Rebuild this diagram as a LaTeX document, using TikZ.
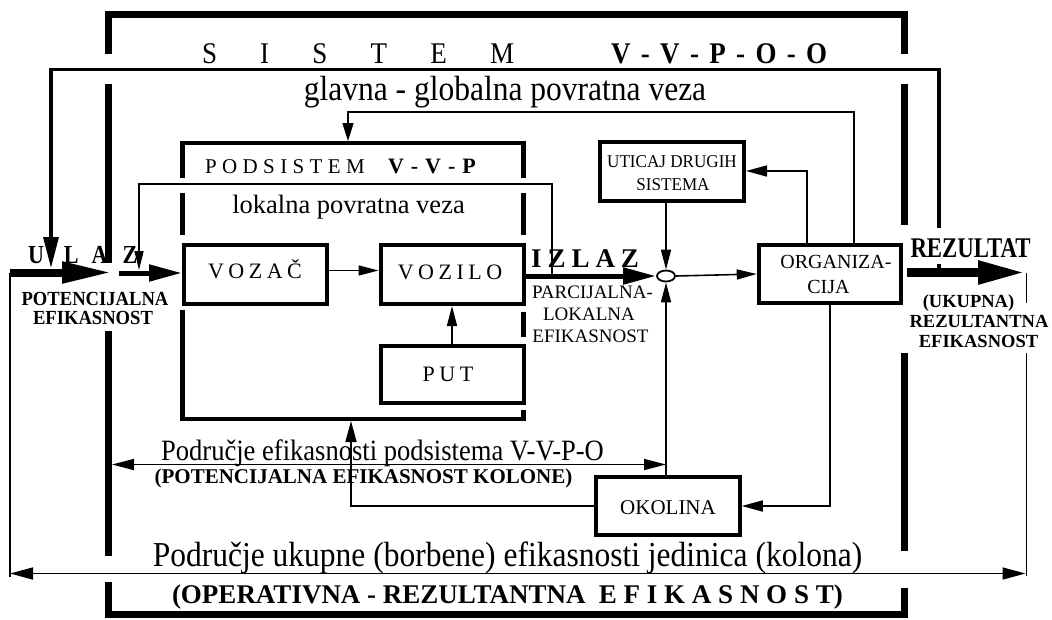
\documentclass[tikz,border=0pt]{standalone}
\usepackage{fontspec}
\setmainfont{Liberation Serif}
\usepackage{graphicx}
\usetikzlibrary{arrows.meta,shapes.geometric}
\newcommand{\tx}[3]{{\fontsize{#1pt}{#1pt}\selectfont\scalebox{#2}[1]{#3}}}
\begin{document}
\begin{tikzpicture}[x=1pt,y=-1pt,
  box/.style={draw, line width=4pt, inner sep=0pt, minimum width=143pt, minimum height=59pt},
  lab/.style={inner sep=0pt, outer sep=0pt},
  conn/.style={line width=1.6pt, line join=miter},
  tip/.style={-{Triangle[length=20pt,width=10pt]}},
  frame/.style={line width=7pt, line join=miter},
  sub/.style={line width=4.5pt, line join=miter}]
\useasboundingbox (0,0) rectangle (1052,619);

% ---- SISTEM frame
\draw[frame] (108,54) -- (108,14) -- (904,14) -- (904,54);
\draw[frame] (108,84) -- (108,263);
\draw[frame] (108,331) -- (108,556);
\draw[frame] (108,582) -- (108,614.5) -- (904,614.5) -- (904,588);
\draw[frame] (904,84) -- (904,225);
\draw[frame] (904,353) -- (904,551);

% ---- PODSISTEM frame
\node[lab, minimum width=341pt, minimum height=276pt] (pod) at (353,281) {};
\draw[sub] (182.5,178) -- (182.5,143) -- (523.5,143) -- (523.5,178);
\draw[sub] (182.5,193) -- (182.5,235);
\draw[sub] (523.5,193) -- (523.5,235);
\draw[sub] (182.5,310) -- (182.5,419) -- (523.5,419) -- (523.5,410);
\draw[sub] (523.5,312) -- (523.5,337);

% ---- titles
\node[lab, anchor=base west] (t1) at (202,63) {\tx{30}{0.9}{S\hspace{48pt}I\hspace{48pt}S\hspace{48pt}T\hspace{48pt}E\hspace{48pt}M}};
\node[lab, anchor=base west] (t2) at (611,63) {\tx{30}{0.9}{\bfseries V\hspace{11.5pt}-\hspace{11.5pt}V\hspace{11.5pt}-\hspace{11.5pt}P\hspace{11.5pt}-\hspace{11.5pt}O\hspace{11.5pt}-\hspace{11.5pt}O}};
\node[lab, anchor=base] (gl) at (505,100) {\tx{35}{0.9}{glavna - globalna povratna veza}};
\node[lab, anchor=base west] (ps1) at (205,173) {\tx{21}{1}{P\hspace{5.4pt}O\hspace{5.4pt}D\hspace{5.4pt}S\hspace{5.4pt}I\hspace{5.4pt}S\hspace{5.4pt}T\hspace{5.4pt}E\hspace{5.4pt}M}};
\node[lab, anchor=base west] (ps2) at (388,173) {\tx{22}{1}{\bfseries V\hspace{7pt}-\hspace{7pt}V\hspace{7pt}-\hspace{7pt}P}};
\node[lab, anchor=base] (lok) at (348.5,213) {\tx{26.5}{1}{lokalna povratna veza}};

% ---- boxes
\node[box] (vozac) at (255.5,274.5) {};
\node[box] (vozilo) at (452,274.5) {};
\node[box, minimum height=57pt] (put) at (452,374) {};
\node[box, minimum width=144pt] (utic) at (672,171) {};
\node[box, minimum width=142.5pt, minimum height=58.5pt] (org) at (830,274) {};
\node[box, minimum width=143.5pt, minimum height=57.5pt] (oko) at (668,506) {};
\node[draw, ellipse, line width=1.8pt, minimum width=18pt, minimum height=11pt, inner sep=0pt] (sum) at (666,276) {};

\node[lab, anchor=base] (tvozac) at (255,278) {\tx{22}{1}{V\hspace{4.5pt}O\hspace{4.5pt}Z\hspace{4.5pt}A\hspace{4.5pt}Č}};
\node[lab, anchor=base] (tvozilo) at (450,279) {\tx{22}{1}{V\hspace{4.5pt}O\hspace{4.5pt}Z\hspace{4.5pt}I\hspace{4.5pt}L\hspace{4.5pt}O}};
\node[lab, anchor=base] (tput) at (448,381) {\tx{22}{1}{P\hspace{4.5pt}U\hspace{4.5pt}T}};
\node[lab, anchor=base] (tu1) at (672,167) {\tx{18}{0.95}{UTICAJ DRUGIH}};
\node[lab, anchor=base] (tu2) at (673,190) {\tx{18}{0.95}{SISTEMA}};
\node[lab, anchor=base] (to1) at (836,268) {\tx{20}{1}{ORGANIZA-}};
\node[lab, anchor=base] (to2) at (828.5,293) {\tx{20}{1}{CIJA}};
\node[lab, anchor=base] (tok) at (668,514) {\tx{21}{1}{OKOLINA}};

% ---- side labels
\node[lab, anchor=base west] (ulaz) at (28,263) {\tx{26}{0.85}{\bfseries U\hspace{23.5pt}L\hspace{15.3pt}A\hspace{17.6pt}Z}};
\node[lab, anchor=base] (pe1) at (95,305) {\tx{20}{0.93}{\bfseries POTENCIJALNA}};
\node[lab, anchor=base] (pe2) at (93,324) {\tx{20}{0.93}{\bfseries EFIKASNOST}};
\node[lab, anchor=base west] (izlaz) at (531,267) {\tx{27}{1}{\bfseries I\hspace{6pt}Z\hspace{6pt}L\hspace{6pt}A\hspace{6pt}Z}};
\node[lab, anchor=base] (pl1) at (592.5,298) {\tx{19}{1}{PARCIJALNA-}};
\node[lab, anchor=base] (pl2) at (589,320) {\tx{19}{1}{LOKALNA}};
\node[lab, anchor=base] (pl3) at (590.5,342) {\tx{19}{1}{EFIKASNOST}};
\node[lab, anchor=base] (rez) at (970.5,257) {\tx{28.5}{0.8}{\bfseries REZULTAT}};
\node[lab, anchor=base] (uk1) at (968.5,307) {\tx{18.5}{1}{\bfseries (UKUPNA)}};
\node[lab, anchor=base] (uk2) at (979,327) {\tx{18.5}{1}{\bfseries REZULTANTNA}};
\node[lab, anchor=base] (uk3) at (978.5,347) {\tx{18.5}{1}{\bfseries EFIKASNOST}};
\node[lab, anchor=base] (pef) at (382.5,460) {\tx{29.5}{0.9}{Područje efikasnosti podsistema V-V-P-O}};
\node[lab, anchor=base] (pk) at (363.5,483) {\tx{21}{1}{\bfseries (POTENCIJALNA EFIKASNOST KOLONE)}};
\node[lab, anchor=base] (pu) at (507.5,566) {\tx{35}{0.9}{Područje ukupne (borbene) efikasnosti jedinica (kolona)}};
\node[lab, anchor=base west] (opr) at (172,603) {\tx{27}{1}{\bfseries (OPERATIVNA - REZULTANTNA\ \ E F I K A S N O S T)}};

% ---- coordinates
\coordinate (gR0) at (939,228);
\coordinate (gTR) at (939,69.5);
\coordinate (gTL) at (51,69.5);
\coordinate (gEnd) at (51,268);
\coordinate (gR1) at (939,264);
\coordinate (gR2) at (939,272);
\coordinate (lR) at (552,184);
\coordinate (lL) at (139,184);
\coordinate (lEnd) at (139,270);
\coordinate (iR) at (854,112);
\coordinate (iL) at (348,112);
\coordinate (ou) at (807,172);
\coordinate (opx) at (351,0);
\coordinate (inL) at (10,272.5);
\coordinate (inA) at (112,272.5);
\coordinate (inB) at (119,273);
\coordinate (bL) at (10,577);
\coordinate (aL) at (10,573.5);
\coordinate (aR) at (1025.5,573.5);
\coordinate (rS) at (907,272.5);
\coordinate (rTip) at (1025,272.5);
\coordinate (rT) at (1026.5,272.5);
\coordinate (rG1) at (1026.5,303);
\coordinate (rG2) at (1026.5,353);
\coordinate (rB) at (1026.5,576);
\coordinate (eL) at (112,464.5);

% ---- connectors
\draw[line width=3.5pt, line join=miter, -{Triangle[length=31pt,width=15pt]}] (gR0) -- (gTR) -- (gTL) -- (gEnd);
\draw[line width=3.5pt] (gR1) -- (gR2);
\draw[conn, -{Triangle[length=19pt,width=9pt]}] (lR |- sum) -- (lR) -- (lL) -- (lEnd);
\draw[conn, -{Triangle[length=18pt,width=11pt]}, shorten >=2pt] (org.north -| iR) -- (iR) -- (iL) -- (iL |- pod.north);
\draw[conn, -{Triangle[length=21pt,width=11pt]}] (org.north -| ou) |- (utic.east);
\draw[conn, -{Triangle[length=21pt,width=11pt]}] (org.south) |- (oko.east);
\draw[conn, -{Triangle[length=21pt,width=11pt]}, shorten >=2pt] (oko.west) -| (opx |- pod.south);
\draw[conn, tip] (utic.south -| sum) -- (sum.north);
\draw[conn, tip] (oko.north -| sum) -- (sum.south);
\draw[conn, tip] (sum.east) -- (org.west);
\draw[conn, tip] ([yshift=4pt]vozac.east) -- ([yshift=4pt]vozilo.west);
\draw[conn, tip] (put.north) -- (vozilo.south);
\draw[line width=5pt, -{Triangle[length=33pt,width=16pt]}] (vozilo.east |- sum) -- (sum.west);
\draw[line width=8pt, -{Triangle[length=50pt,width=20pt]}] (inL) -- (inA);
\draw[line width=5pt, -{Triangle[length=33pt,width=16pt]}] (inB) -- (vozac.west |- inB);
\draw[conn] (inL) -- (bL);
\draw[conn, {Triangle[length=23pt,width=12pt]}-{Triangle[length=23pt,width=12pt]}] (aL) -- (aR);
\draw[conn] (rT) -- (rG1);
\draw[conn] (rG2) -- (rB);
\draw[line width=8.5pt, -{Triangle[length=47pt,width=22pt]}] (rS) -- (rTip);
\draw[conn, {Triangle[length=22pt,width=11pt]}-{Triangle[length=22pt,width=11pt]}] (eL) -- (eL -| sum);
\end{tikzpicture}
\end{document}
